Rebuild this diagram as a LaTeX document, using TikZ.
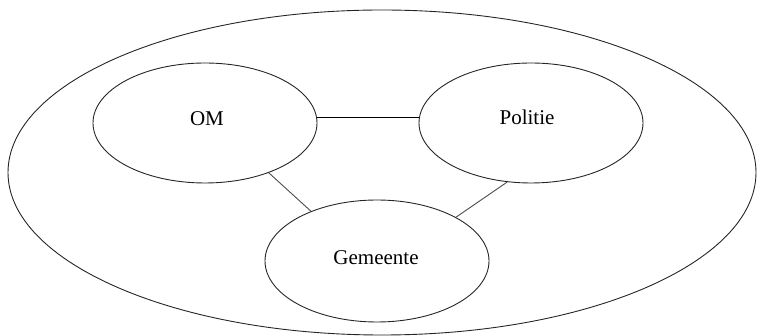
\documentclass[tikz,border=0pt]{standalone}
\usepackage{fontspec}
\setmainfont{Liberation Serif}
\usetikzlibrary{shapes.geometric}
\begin{document}
\begin{tikzpicture}[x=1pt,y=-1pt,
  party/.style={ellipse,draw=black!85,line width=0.9pt,inner sep=0pt,
    minimum width=224pt,minimum height=120pt},
  caption/.style={font=\fontsize{21}{24}\selectfont,inner sep=0pt},
  link/.style={draw=black!70,line width=0.9pt},
  mainlink/.style={draw=black,line width=0.9pt}]
  \useasboundingbox (0,0) rectangle (758,336);
  % outer boundary
  \node[ellipse,draw=black!85,line width=0.9pt,inner sep=0pt,
    minimum width=748pt,minimum height=325pt] (outer) at (382,172.5) {};
  % organisations
  \node[party] (om) at (205,123) {};
  \node[caption] (omtext) at (207,119) {OM};
  \node[party] (politie) at (531,123) {};
  \node[caption] (politietext) at (527,117) {Politie};
  \node[party,minimum height=122pt] (gemeente) at (377,261) {};
  \node[caption] (gemeentetext) at (376,258) {Gemeente};
  % relations
  \draw[mainlink] (om.east |- 0,117) -- (politie.west |- 0,117);
  \draw[link] (om.-38) -- (gemeente.143);
  \draw[link] (politie.-112) -- (gemeente.29);
\end{tikzpicture}
\end{document}
